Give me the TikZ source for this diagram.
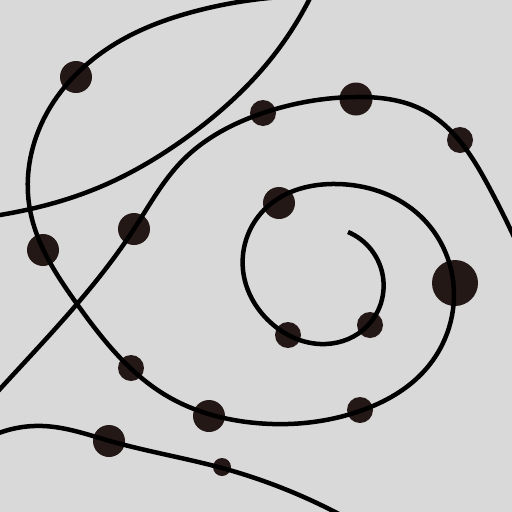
\documentclass[tikz,border=0pt]{standalone}
\usetikzlibrary{hobby}
\begin{document}
\begin{tikzpicture}[x=1pt,y=-1pt,
  curve/.style={line width=4.5pt,black,line cap=butt},
  dot/.style={circle,fill=dotc,inner sep=0pt,minimum size=#1},
]
\definecolor{bg}{HTML}{D9D9D9}
\definecolor{dotc}{HTML}{231816}
\fill[bg] (0,0) rectangle (512,512);
\useasboundingbox (0,0) rectangle (512,512);
\clip (0,0) rectangle (512,512);
% dots
\node[dot=32pt] (d1) at (76,77) {};
\node[dot=32pt] (d2) at (43,250) {};
\node[dot=32pt] (d3) at (134,229) {};
\node[dot=26pt] (d4) at (263,113) {};
\node[dot=33pt] (d5) at (356,99) {};
\node[dot=26pt] (d6) at (460,140) {};
\node[dot=32pt] (d7) at (279,203) {};
\node[dot=46pt] (d8) at (455,283) {};
\node[dot=26pt] (d9) at (370,325) {};
\node[dot=26pt] (d10) at (288,335) {};
\node[dot=26pt] (d11) at (360,410) {};
\node[dot=32pt] (d12) at (209,416) {};
\node[dot=26pt] (d13) at (131,368) {};
\node[dot=32pt] (d14) at (109,441) {};
\node[dot=18pt] (d15) at (222,467) {};
% spiral
\draw[curve,use Hobby shortcut] (348,232) .. (383,277) .. (363,330) .. (320,344)
  .. (270,322) .. (243,270) .. (267,207) .. (337,184) .. (417,213) .. (453,280)
  .. (426,369) .. (360,411) .. (256,423) .. (167,396) .. (77,304) .. (30,210)
  .. (40,127) .. (110,47) .. (200,10) .. (300,-4);
% curve B
\draw[curve,use Hobby shortcut] (314,-10) .. (270,60) .. (183,140) .. (100,187)
  .. (0,215) .. (-20,218);
% curve C
\draw[curve,use Hobby shortcut] (520,250) .. (489,187) .. (423,110) .. (356,97)
  .. (263,113) .. (183,160) .. (134,229) .. (77,304) .. (0,389) .. (-10,400);
% curve D
\draw[curve,use Hobby shortcut] (-20,442) .. (43,426) .. (110,441) .. (222,468)
  .. (350,520);
\end{tikzpicture}
\end{document}
